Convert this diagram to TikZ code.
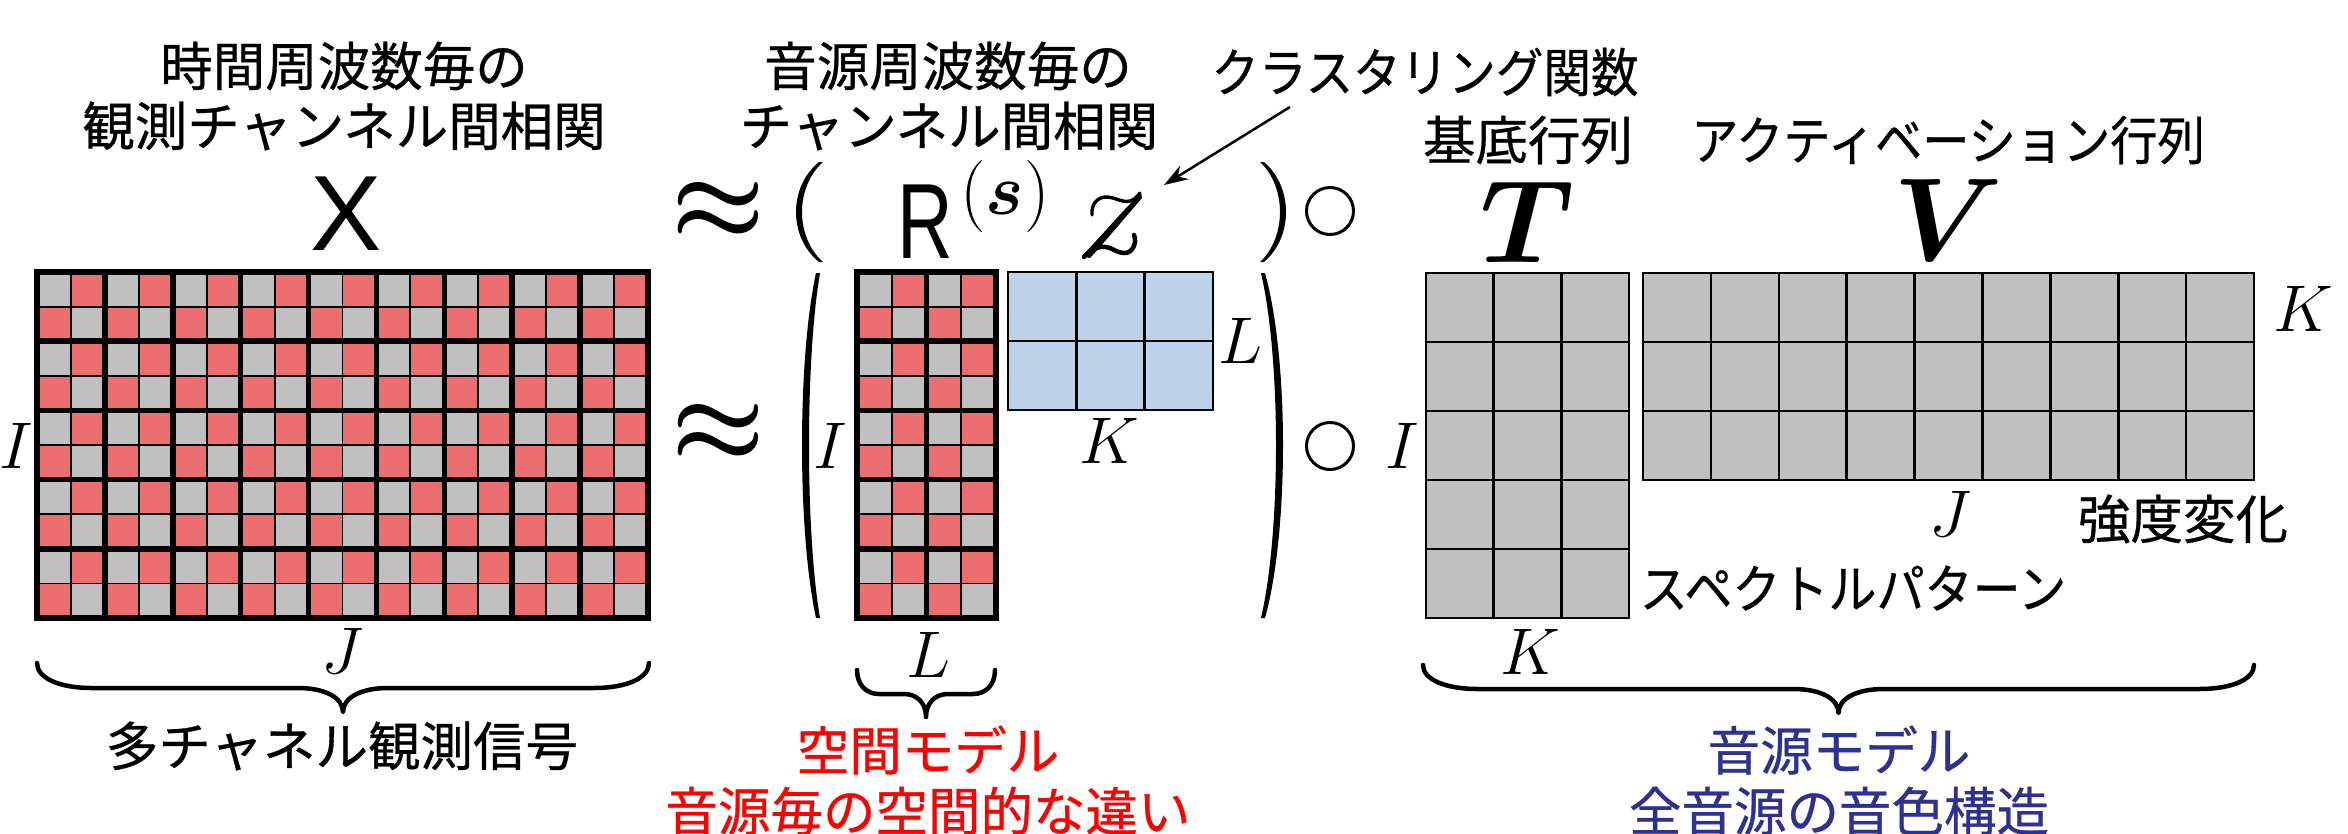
\RequirePackage{fix-cm}
\documentclass[tikz,border=0pt]{standalone}
\usepackage{amsmath,bm}
\usepackage{graphicx}
\usepackage{fontspec}
\newfontfamily\jp[FakeBold=0.6]{Noto Sans CJK JP}
\newfontfamily\arsans{Liberation Sans}
\usetikzlibrary{arrows.meta}
\definecolor{cred}{RGB}{236,110,112}
\definecolor{cgray}{RGB}{192,192,192}
\definecolor{cblue}{RGB}{189,211,233}
\definecolor{tblue}{RGB}{46,49,146}
\newcommand\bigsz{\fontsize{105}{110}\selectfont}
\newcommand\xrsz{\arsans\fontsize{107}{110}\selectfont}
\newcommand\supsz{\fontsize{72}{80}\selectfont}
\newcommand\tvsz{\fontsize{118}{120}\selectfont}
\newcommand\lblsz{\fontsize{66}{70}\selectfont}
\newcommand\jpsz{\jp\fontsize{52.5}{60}\selectfont}
\tikzset{
  jptext/.style={font=\jpsz, inner sep=0pt},
  mathlbl/.style={font=\lblsz, inner sep=0pt},
  thinline/.style={line width=1.8pt},
  thickline/.style={line width=5.5pt, line cap=rect},
  gridline/.style={line width=2.6pt, line cap=rect},
  bracestyle/.style={line width=4.5pt, line cap=round, line join=round},
  opcircle/.style={circle, draw, line width=3pt, minimum size=47pt, inner sep=0pt},
  glyphstroke/.style={line cap=round, line join=round},
}
% parenthesis as a filled crescent: outer end x, inner end x, y1, y2, outer mid x, inner mid x
\newcommand\myparen[6]{%
  \fill (#1,#3) .. controls ({(4*#5-#1)/3},{#3+0.25*(#4-#3)}) and ({(4*#5-#1)/3},{#4-0.25*(#4-#3)}) .. (#1,#4)
     -- (#2,#4) .. controls ({(4*#6-#2)/3},{#4-0.25*(#4-#3)}) and ({(4*#6-#2)/3},{#3+0.25*(#4-#3)}) .. (#2,#3) -- cycle;}
% curly brace: x1 x2 ytop yh ytip d1 d2
\newcommand\curly[7]{%
  \draw[bracestyle] (#1,#3) .. controls (#1,{#3+0.6*(#4-#3)}) and ({#1+0.4*#6},#4) .. ({#1+#6},#4)
     -- ({(#1+#2)/2-#7},#4) .. controls ({(#1+#2)/2-0.4*#7},#4) and ({(#1+#2)/2},{#4+0.4*(#5-#4)}) .. ({(#1+#2)/2},#5)
     .. controls ({(#1+#2)/2},{#4+0.4*(#5-#4)}) and ({(#1+#2)/2+0.4*#7},#4) .. ({(#1+#2)/2+#7},#4)
     -- ({#2-#6},#4) .. controls ({#2-0.4*#6},#4) and (#2,{#3+0.6*(#4-#3)}) .. (#2,#3);}
\begin{document}
\begin{tikzpicture}[x=1pt,y=-1pt]
\useasboundingbox (0,0) rectangle (2348,833);

% ---------- X matrix (18 x 10) ----------
\def\Xx{37}\def\Xy{272}\def\Xw{33.944}\def\Xh{34.6}
\foreach \r in {0,...,9}{\foreach \c in {0,...,17}{
  \pgfmathtruncatemacro\pp{\r+\c}
  \ifodd\pp \fill[cred] ({\Xx+\c*\Xw},{\Xy+\r*\Xh}) rectangle ++(\Xw,\Xh);
  \else \fill[cgray] ({\Xx+\c*\Xw},{\Xy+\r*\Xh}) rectangle ++(\Xw,\Xh); \fi}}
\foreach \c in {1,3,...,17}{\draw[thinline] ({\Xx+\c*\Xw},\Xy) -- ++(0,{10*\Xh});}
\foreach \r in {1,3,...,9}{\draw[thinline] (\Xx,{\Xy+\r*\Xh}) -- ++({18*\Xw},0);}
\foreach \c in {0,2,...,18}{\draw[thickline] ({\Xx+\c*\Xw},\Xy) -- ++(0,{10*\Xh});}
\foreach \r in {0,2,...,10}{\draw[thickline] (\Xx,{\Xy+\r*\Xh}) -- ++({18*\Xw},0);}

% ---------- R matrix (4 x 10) ----------
\def\Rx{857}\def\Rw{34.75}
\foreach \r in {0,...,9}{\foreach \c in {0,...,3}{
  \pgfmathtruncatemacro\pp{\r+\c}
  \ifodd\pp \fill[cred] ({\Rx+\c*\Rw},{\Xy+\r*\Xh}) rectangle ++(\Rw,\Xh);
  \else \fill[cgray] ({\Rx+\c*\Rw},{\Xy+\r*\Xh}) rectangle ++(\Rw,\Xh); \fi}}
\foreach \c in {1,3}{\draw[thinline] ({\Rx+\c*\Rw},\Xy) -- ++(0,{10*\Xh});}
\foreach \r in {1,3,...,9}{\draw[thinline] (\Rx,{\Xy+\r*\Xh}) -- ++({4*\Rw},0);}
\foreach \c in {0,2,4}{\draw[thickline] ({\Rx+\c*\Rw},\Xy) -- ++(0,{10*\Xh});}
\foreach \r in {0,2,...,10}{\draw[thickline] (\Rx,{\Xy+\r*\Xh}) -- ++({4*\Rw},0);}

% ---------- Z matrix (3 x 2, blue) ----------
\fill[cblue] (1008,272) rectangle (1213,410);
\foreach \c in {0,1,2,3}{\draw[gridline] ({1008+\c*68.33},272) -- ++(0,138);}
\foreach \r in {0,1,2}{\draw[gridline] (1008,{272+\r*69}) -- ++(205,0);}

% ---------- T matrix (3 x 5) ----------
\fill[cgray] (1426,273) rectangle (1629,618);
\foreach \c in {0,1,2,3}{\draw[gridline] ({1426+\c*67.67},273) -- ++(0,345);}
\foreach \r in {0,...,5}{\draw[gridline] (1426,{273+\r*69}) -- ++(203,0);}

% ---------- V matrix (9 x 3) ----------
\fill[cgray] (1643,273) rectangle (2254,480);
\foreach \c in {0,...,9}{\draw[gridline] ({1643+\c*67.89},273) -- ++(0,207);}
\foreach \r in {0,...,3}{\draw[gridline] (1643,{273+\r*69}) -- ++(611,0);}

% ---------- parentheses ----------
\myparen{819}{823}{162}{262}{796}{802}
\myparen{1264}{1260}{162}{262}{1286}{1280}
\myparen{816}{820}{273}{618}{802}{809}
\myparen{1265}{1261}{273}{618}{1283}{1276}

% ---------- symbols ----------
\node[inner sep=0pt, font=\bigsz] (ap1) at (718,211) {$\bm{\approx}$};
\node[inner sep=0pt, font=\bigsz] (ap2) at (718,433) {$\bm{\approx}$};
\node[opcircle] (o1) at (1330,211) {};
\node[opcircle] (o2) at (1330,446) {};

\node[inner sep=0pt, font=\xrsz] (Xsym) at (346,214) {X};
\node[inner sep=0pt, font=\xrsz] (Rsym) at (925,222) {\scalebox{0.72}[1]{R}};
\node[inner sep=0pt, font=\supsz] (Rsup) at (1005,196) {$(\bm{s})$};
\node[inner sep=0pt, font=\tvsz] (Tsym) at (1527,222) {$\bm{T}$};
\node[inner sep=0pt, font=\tvsz] (Vsym) at (1949,220) {$\bm{V}$};

% ---------- script z (drawn) ----------
\node[inner sep=0pt, minimum width=58pt, minimum height=67pt] (zsym) at (1111,226) {};
\draw[glyphstroke, line width=3.4pt] (1092,215) .. controls (1091,205) and (1097,197) .. (1106,197)
   .. controls (1115,197) and (1122,203) .. (1130,201) .. controls (1134,200) and (1137,197) .. (1140,193);
\fill[glyphstroke] (1141,193) .. controls (1125,208) and (1104,233) .. (1082,256)
   -- (1090,258) .. controls (1110,236) and (1128,214) .. (1142,198) -- cycle;
\draw[glyphstroke, line width=4.5pt] (1084,257) .. controls (1092,248) and (1102,244) .. (1112,249)
   .. controls (1120,253) and (1128,256) .. (1133,248) .. controls (1135,244) and (1136,240) .. (1134,235);

% ---------- dimension labels ----------
\node[mathlbl] (I1) at (16,446) {$I$};
\node[mathlbl] (J1) at (342,651) {$J$};
\node[mathlbl] (I2) at (830,446) {$I$};
\node[mathlbl] (L2) at (928,655) {$L$};
\node[mathlbl] (L3) at (1240,341) {$L$};
\node[mathlbl] (K3) at (1109,441) {$K$};
\node[mathlbl] (I4) at (1402,446) {$I$};
\node[mathlbl] (K5) at (2303,309) {$K$};
\node[mathlbl] (J5) at (1950,514) {$J$};
\node[mathlbl] (K6) at (1530,652) {$K$};

% ---------- texts ----------
\node[jptext] (t1a) at (344,66) {時間周波数毎の};
\node[jptext] (t1b) at (344,126) {観測チャンネル間相関};
\node[jptext] (t2a) at (948,66) {音源周波数毎の};
\node[jptext] (t2b) at (949,126) {チャンネル間相関};
\node[jptext] (clust) at (1425,72) {\scalebox{0.906}[1]{クラスタリング関数}};
\node[jptext] (kitei) at (1528,140) {基底行列};
\node[jptext] (act) at (1948,140) {\scalebox{0.9}[1]{アクティベーション行列}};
\node[jptext] (kyodo) at (2183,519) {強度変化};
\node[jptext] (spec) at (1853,588) {\scalebox{0.915}[1]{スペクトルパターン}};
\node[jptext] (multi) at (342,746) {多チャネル観測信号};
\node[jptext, text=red] (sp1) at (928,750) {空間モデル};
\node[jptext, text=red] (sp2) at (928,811) {音源毎の空間的な違い};
\node[jptext, text=tblue] (sm1) at (1839,750) {音源モデル};
\node[jptext, text=tblue] (sm2) at (1839,811) {全音源の音色構造};

% ---------- arrow ----------
\coordinate (arrS) at (1290,107);
\coordinate (arrE) at (1164,185);
\draw[line width=2.5pt, -{Stealth[length=24pt,width=16pt]}] (arrS) -- (arrE);

% ---------- braces ----------
\curly{37}{649}{663}{688}{712}{55}{45}
\curly{857}{995}{670}{694}{717}{22}{22}
\curly{1423}{2254}{665}{689}{713}{55}{45}
\end{tikzpicture}
\end{document}
